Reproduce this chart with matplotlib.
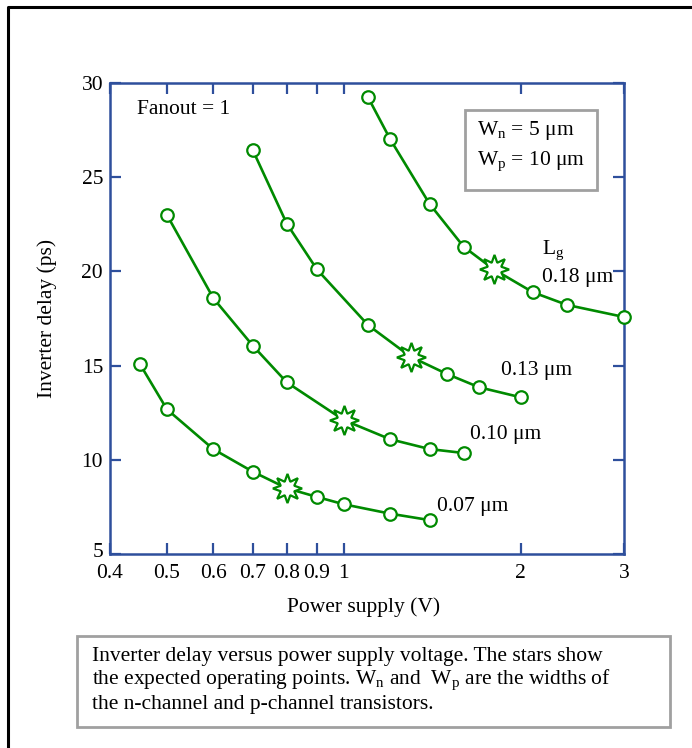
import matplotlib.pyplot as plt
from matplotlib.patches import Rectangle
from matplotlib.lines import Line2D
from matplotlib.transforms import ScaledTranslation

plt.rcParams['font.family'] = ['Liberation Serif', 'DejaVu Serif']
plt.rcParams['mathtext.fontset'] = 'custom'
plt.rcParams['mathtext.rm'] = 'Liberation Serif'
plt.rcParams['mathtext.it'] = 'Liberation Serif:italic'

# Дані
v_007 = [0.45, 0.5, 0.6, 0.7, 0.8, 0.9, 1.0, 1.2, 1.4]
d_007 = [15.07, 12.68, 10.56, 9.37, 8.49, 8.03, 7.64, 7.14, 6.80]
v_010 = [0.5, 0.6, 0.7, 0.8, 1.0, 1.2, 1.4, 1.6]
d_010 = [23.0, 18.57, 16.06, 14.11, 12.11, 11.09, 10.57, 10.36]
v_013 = [0.7, 0.8, 0.9, 1.1, 1.3, 1.5, 1.7, 2.0]
d_013 = [26.44, 22.53, 20.11, 17.15, 15.47, 14.55, 13.85, 13.32]
v_018 = [1.1, 1.2, 1.4, 1.6, 1.8, 2.1, 2.4, 3.0]
d_018 = [29.24, 27.01, 23.58, 21.31, 20.11, 18.89, 18.22, 17.58]

# Робочі точки (зірки), по одній на криву
star_v = [0.8, 1.0, 1.3, 1.8]
star_d = [8.49, 12.11, 15.47, 20.11]

x_ticks = [0.4, 0.5, 0.6, 0.7, 0.8, 0.9, 1, 2, 3]
x_labels = ['0.4', '0.5', '0.6', '0.7', '0.8', '0.9', '1', '2', '3']
y_ticks = [5, 10, 15, 20, 25, 30]

W, H = 692, 748
GREEN = '#008a00'
BLUE = '#2e4f9c'
GREY = '#a0a0a0'
FS = 15.5


def fx(x):
    return x / W


def fy(y):
    return 1 - y / H


fig = plt.figure(figsize=(W / 100, H / 100), dpi=100)

# зовнішня рамка (обрізана справа і знизу)
fig.add_artist(Line2D([fx(8), fx(8), 1.0], [0.0, fy(7), fy(7)],
                      color='black', lw=2.2, transform=fig.transFigure))

ax = fig.add_axes([fx(110), fy(554), fx(624) - fx(110), fy(83) - fy(554)])

series = [(v_007, d_007), (v_010, d_010), (v_013, d_013), (v_018, d_018)]
for (v, d), sv in zip(series, star_v):
    ax.plot(v, d, color=GREEN, lw=1.9, zorder=2)
    cx = [a for a in v if a != sv]
    cy = [b for a, b in zip(v, d) if a != sv]
    ax.plot(cx, cy, 'o', color=GREEN, mfc='white', mec=GREEN, ms=9,
            mew=1.6, zorder=3, clip_on=False)

ax.plot(star_v, star_d, linestyle='none', marker=(8, 1, 0), ms=21,
        mfc='white', mec=GREEN, mew=1.6, zorder=4)

ax.set_xscale('log')
ax.set_xlim(0.4, 3)
ax.set_ylim(5, 30)
ax.set_xticks(x_ticks)
ax.set_xticklabels(x_labels)
ax.xaxis.set_minor_locator(plt.NullLocator())
ax.set_yticks(y_ticks)
ax.tick_params(which='both', direction='in', length=8, width=1.6, color=BLUE,
               top=True, right=True, labelsize=FS, pad=5)
ax.tick_params(axis='x', pad=7)
for sp in ax.spines.values():
    sp.set_color(BLUE)
    sp.set_linewidth(1.8)
lab5 = ax.get_yticklabels()[0]
lab5.set_transform(lab5.get_transform() +
                   ScaledTranslation(0, 3 / 72, fig.dpi_scale_trans))

fig.text(fx(47), fy(318), 'Inverter delay (ps)', rotation=90,
         ha='center', va='center', fontsize=FS)
fig.text(fx(364), fy(607), 'Power supply (V)', ha='center', va='center',
         fontsize=FS)

fig.text(fx(137), fy(110), 'Fanout = 1', ha='left', va='center', fontsize=FS)

fig.add_artist(Rectangle((fx(465), fy(190)), fx(597) - fx(465), fy(110) - fy(190),
                         transform=fig.transFigure, fill=True, fc='white',
                         ec=GREY, lw=2))
fig.text(fx(477), fy(131), r'W$_\mathrm{n}$ = 5 μm', ha='left', va='center',
         fontsize=FS)
fig.text(fx(477), fy(161), r'W$_\mathrm{p}$ = 10 μm', ha='left', va='center',
         fontsize=FS)

fig.text(fx(542), fy(250), r'L$_\mathrm{g}$', ha='left', va='center', fontsize=FS)
fig.text(fx(542), fy(278), '0.18 μm', ha='left', va='center', fontsize=FS)
fig.text(fx(501), fy(371), '0.13 μm', ha='left', va='center', fontsize=FS)
fig.text(fx(470), fy(434), '0.10 μm', ha='left', va='center', fontsize=FS)
fig.text(fx(437), fy(507), '0.07 μm', ha='left', va='center', fontsize=FS)

# підпис у рамці
fig.add_artist(Rectangle((fx(77), fy(727)), fx(670) - fx(77), fy(636) - fy(727),
                         transform=fig.transFigure, fill=False, ec=GREY, lw=2))
caption = [
    'Inverter delay versus power supply voltage. The stars show',
    r'the expected operating points. W$_\mathrm{n}$ and  W$_\mathrm{p}$ are the widths of',
    'the n-channel and p-channel transistors.',
]
for i, line in enumerate(caption):
    fig.text(fx(92), fy(656 + 24 * i), line, ha='left', va='center', fontsize=FS)

fig.savefig('out.png', dpi=100)
